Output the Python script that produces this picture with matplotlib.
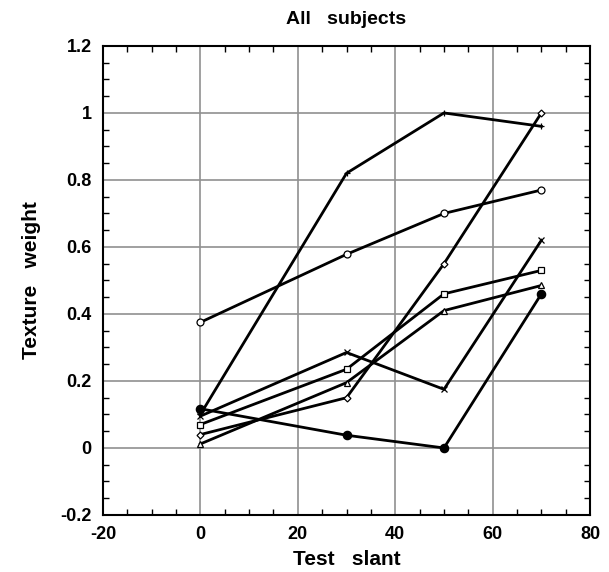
import matplotlib
matplotlib.use("Agg")
import matplotlib.pyplot as plt
from matplotlib.ticker import MultipleLocator

plt.rcParams['font.family'] = ['Liberation Sans', 'DejaVu Sans']
plt.rcParams['font.weight'] = 'bold'
plt.rcParams['axes.unicode_minus'] = False

slant = [0, 30, 50, 70]
plus_w = [0.10, 0.82, 1.00, 0.96]
circle_w = [0.375, 0.578, 0.70, 0.77]
diamond_w = [0.04, 0.15, 0.55, 1.00]
cross_w = [0.095, 0.285, 0.175, 0.62]
square_w = [0.07, 0.235, 0.46, 0.53]
triangle_w = [0.012, 0.195, 0.41, 0.485]
dot_w = [0.117, 0.038, 0.0, 0.46]

series = [
    (plus_w, '+', 'none'),
    (circle_w, 'o', 'white'),
    (diamond_w, 'D', 'white'),
    (cross_w, 'x', 'none'),
    (square_w, 's', 'white'),
    (triangle_w, '^', 'white'),
    (dot_w, 'o', 'black'),
]

fig = plt.figure(figsize=(6.09, 5.72), dpi=100)
ax = fig.add_axes([0.169, 0.0997, 0.8, 0.82])

for vals, mk, fc in series:
    size = 5 if mk != 'D' else 3.5
    if fc == 'black':
        size = 6
    ax.plot(slant, vals, color='black', lw=2.0, marker=mk, markersize=size,
            markerfacecolor=fc, markeredgecolor='black', markeredgewidth=0.9, zorder=3)

ax.set_xlim(-20, 80)
ax.set_ylim(-0.2, 1.2)
ax.xaxis.set_major_locator(MultipleLocator(20))
ax.xaxis.set_minor_locator(MultipleLocator(5))
ax.yaxis.set_major_locator(MultipleLocator(0.2))
ax.yaxis.set_minor_locator(MultipleLocator(0.05))
ax.set_yticks([-0.2, 0, 0.2, 0.4, 0.6, 0.8, 1, 1.2])
ax.set_yticklabels(['-0.2', '0', '0.2', '0.4', '0.6', '0.8', '1', '1.2'])
ax.grid(True, which='major', color='#909090', lw=1.2, zorder=1)
ax.tick_params(which='both', direction='in', top=True, right=True, labelsize=13, pad=8)
ax.tick_params(which='major', length=0)
ax.tick_params(which='minor', length=4, width=1)
for sp in ax.spines.values():
    sp.set_linewidth(1.5)

ax.set_xlabel('Test   slant', fontsize=15, fontweight='bold', labelpad=5)
ax.set_ylabel('Texture   weight', fontsize=15, fontweight='bold', labelpad=14)
ax.set_title('All   subjects', fontsize=14, fontweight='bold', pad=16)

fig.savefig('out.png', dpi=100)
